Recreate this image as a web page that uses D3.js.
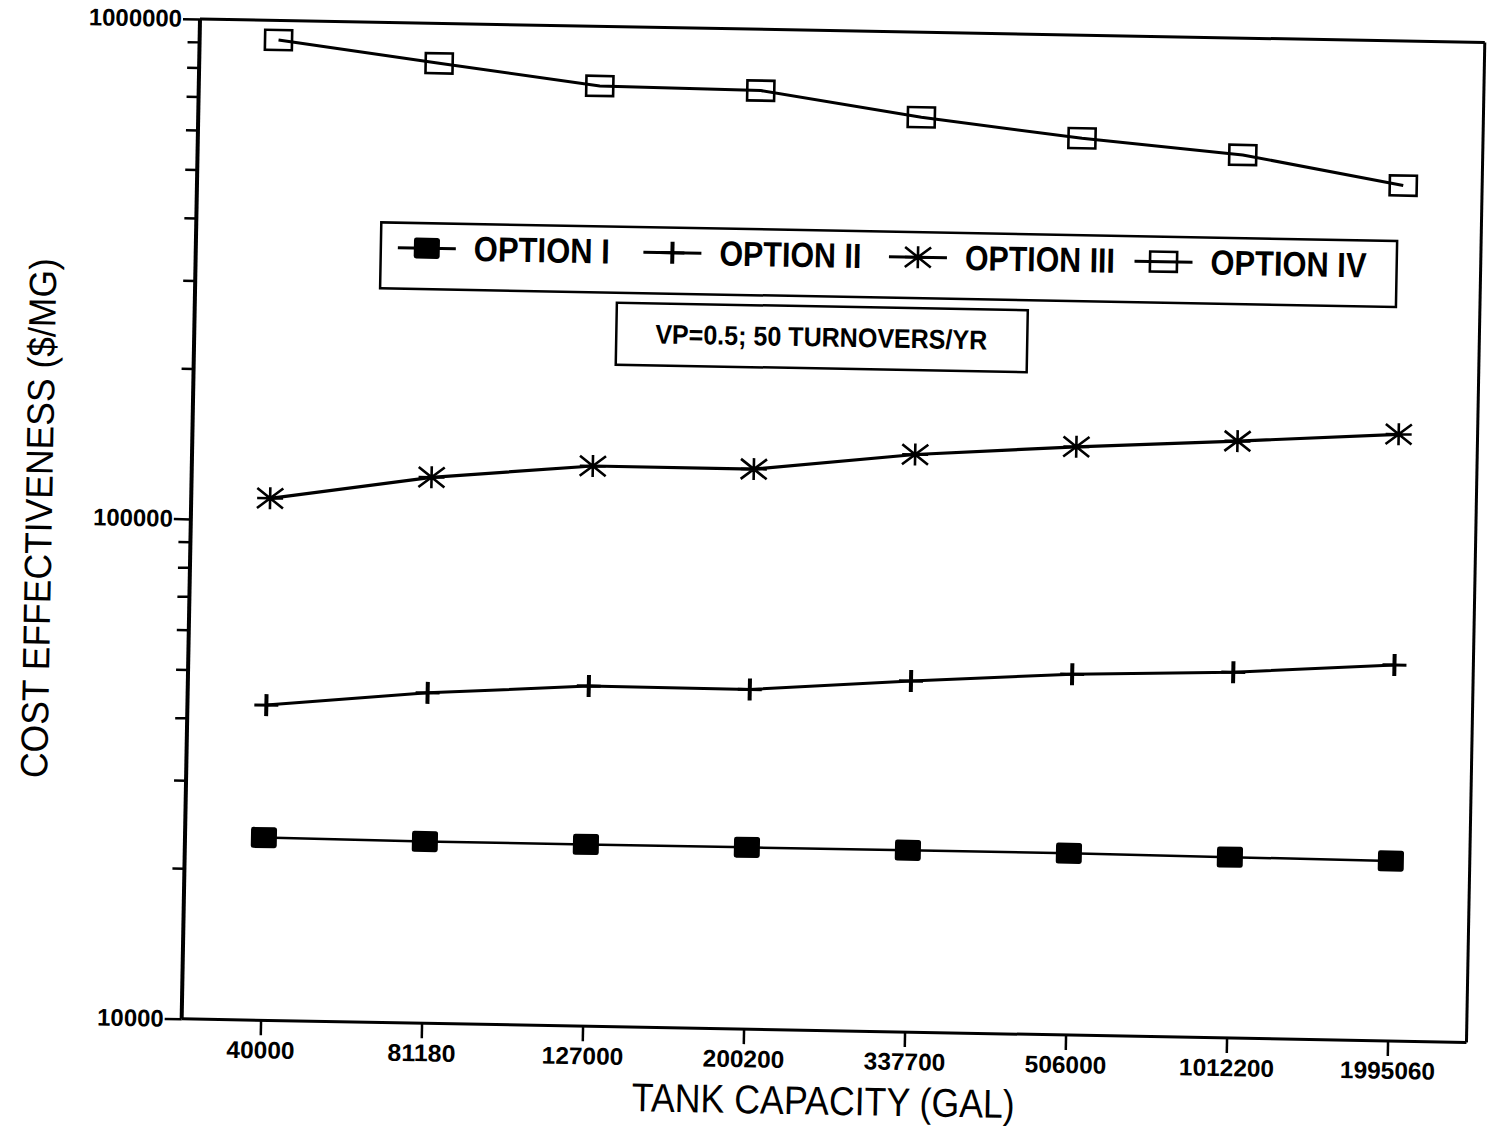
<!DOCTYPE html>
<html><head><meta charset="utf-8">
<script src="https://cdn.jsdelivr.net/npm/d3@7"></script>
<style>body{margin:0;background:#fff}svg{display:block}</style>
</head><body><svg id="c" width="1489" height="1126"></svg>
<script>
// ---- data ----
const categories = ["40000","81180","127000","200200","337700","506000","1012200","1995060"];
const optionI   = [23200, 23100, 23100, 23100, 23100, 23100, 23000, 22900];
const optionII  = [42700, 45800, 47900, 47800, 50400, 52700, 53900, 56500];
const optionIII = [110700, 123600, 132000, 131900, 143000, 150200, 156300, 163500];
const optionIV  = [914000, 832000, 760000, 754000, 676000, 622000, 584000, 514000];
const seriesNames = ["OPTION I", "OPTION II", "OPTION III", "OPTION IV"];
const yMajorTicks = [10000, 100000, 1000000];
const xTitle = "TANK CAPACITY (GAL)";
const yTitle = "COST EFFECTIVENESS ($/MG)";
const annotation = "VP=0.5; 50 TURNOVERS/YR";

const series = [
  {name: seriesNames[0], values: optionI,   marker: "fsquare", lw: 2.5},
  {name: seriesNames[1], values: optionII,  marker: "plus",    lw: 3},
  {name: seriesNames[2], values: optionIII, marker: "star",    lw: 3.2},
  {name: seriesNames[3], values: optionIV,  marker: "osquare", lw: 3}
];

// ---- layout (scanned page is tilted ~1 degree) ----
const W = 1285, H = 1000;
const FONT = "'Liberation Sans', Arial, Helvetica, sans-serif";
const svg = d3.select("#c");
const g = svg.append("g").attr("transform", "translate(200,19) rotate(1.05)");

const x = d3.scalePoint().domain(categories).range([0, W]).padding(0.49);
const y = d3.scaleLog().domain([10000, 1000000]).range([H, 0]);

// minor ticks
const minorTicks = [];
[10000, 100000].forEach(d => { for (let k = 2; k <= 9; k++) minorTicks.push(d * k); });

const yMinor = g.append("g").call(d3.axisLeft(y).tickValues(minorTicks).tickSize(12).tickFormat(""));
yMinor.select(".domain").remove();
const yMajor = g.append("g").call(d3.axisLeft(y).tickValues(yMajorTicks).tickSize(17).tickPadding(1).tickFormat(d3.format("d")));
yMajor.select(".domain").remove();
[yMinor, yMajor].forEach(a => a.selectAll("line").attr("stroke", "#000").attr("stroke-width", 2.5));
yMajor.selectAll("text").attr("font-family", FONT).attr("font-weight", "bold")
  .attr("font-size", 24).attr("fill", "#000").attr("textLength", function(d){ return String(d).length * 13.3; })
  .attr("lengthAdjust", "spacingAndGlyphs");

const xAxis = g.append("g").attr("transform", `translate(0,${H})`)
  .call(d3.axisBottom(x).tickSize(15).tickPadding(6));
xAxis.select(".domain").remove();
xAxis.selectAll("line").attr("stroke", "#000").attr("stroke-width", 2.5);
xAxis.selectAll("text").attr("font-family", FONT).attr("font-weight", "bold")
  .attr("font-size", 24).attr("fill", "#000")
  .attr("textLength", d => d.length * 13.6).attr("lengthAdjust", "spacingAndGlyphs");

// frame
g.append("line").attr("x1", 0).attr("x2", W).attr("y1", 0).attr("y2", 0).attr("stroke", "#000").attr("stroke-width", 3);
g.append("line").attr("x1", W).attr("x2", W).attr("y1", 0).attr("y2", H).attr("stroke", "#000").attr("stroke-width", 3);
g.append("line").attr("x1", 0).attr("x2", W).attr("y1", H).attr("y2", H).attr("stroke", "#000").attr("stroke-width", 3);
g.append("line").attr("x1", 0).attr("x2", 0).attr("y1", 0).attr("y2", H).attr("stroke", "#000").attr("stroke-width", 4);

// markers
function drawMarker(sel, type) {
  if (type === "fsquare") {
    sel.append("rect").attr("x", -13).attr("y", -10.5).attr("width", 26).attr("height", 21)
      .attr("rx", 2.5).attr("fill", "#000");
  } else if (type === "osquare") {
    sel.append("rect").attr("x", -13.5).attr("y", -10).attr("width", 27).attr("height", 20)
      .attr("fill", "none").attr("stroke", "#000").attr("stroke-width", 2.6);
  } else if (type === "plus") {
    sel.append("path").attr("d", "M-12,0H12").attr("stroke", "#000").attr("stroke-width", 3);
    sel.append("path").attr("d", "M0,-11V11").attr("stroke", "#000").attr("stroke-width", 4);
  } else if (type === "star") {
    sel.append("path").attr("d", "M-13,0H13M0,-11V11M-13,-10L13,10M-13,10L13,-10")
      .attr("stroke", "#000").attr("stroke-width", 2.6).attr("fill", "none");
  }
}

const line = d3.line().x((d, i) => x(categories[i])).y(d => y(d));
series.forEach(s => {
  g.append("path").datum(s.values).attr("d", line).attr("fill", "none")
    .attr("stroke", "#000").attr("stroke-width", s.lw);
  s.values.forEach((v, i) => {
    const m = g.append("g").attr("transform", `translate(${x(categories[i])},${y(v)})`);
    drawMarker(m, s.marker);
  });
});

// legend
const leg = g.append("g");
leg.append("rect").attr("x", 185).attr("y", 200).attr("width", 1016).attr("height", 66)
  .attr("fill", "#fff").attr("stroke", "#000").attr("stroke-width", 2.5);
const legTextW = [136, 142, 150, 156];
series.forEach((s, i) => {
  const cx = 231 + i * 245.6;
  leg.append("line").attr("x1", cx - 29).attr("x2", cx + 29).attr("y1", 225).attr("y2", 225)
    .attr("stroke", "#000").attr("stroke-width", 3);
  const m = leg.append("g").attr("transform", `translate(${cx},225)`);
  drawMarker(m, s.marker);
  leg.append("text").attr("x", cx + 47).attr("y", 237).text(s.name)
    .attr("font-family", FONT).attr("font-weight", "bold").attr("font-size", 35)
    .attr("textLength", legTextW[i]).attr("lengthAdjust", "spacingAndGlyphs");
});

// annotation box
g.append("rect").attr("x", 422).attr("y", 276).attr("width", 411).attr("height", 62)
  .attr("fill", "#fff").attr("stroke", "#000").attr("stroke-width", 2.5);
g.append("text").attr("x", 627).attr("y", 316).attr("text-anchor", "middle").text(annotation)
  .attr("font-family", FONT).attr("font-weight", "bold").attr("font-size", 27)
  .attr("textLength", 332).attr("lengthAdjust", "spacingAndGlyphs");

// titles
g.append("text").attr("x", 643).attr("y", 1084).attr("text-anchor", "middle").text(xTitle)
  .attr("font-family", FONT).attr("font-size", 40)
  .attr("textLength", 383).attr("lengthAdjust", "spacingAndGlyphs");
g.append("text").attr("transform", "translate(-139,502) rotate(-90)").attr("text-anchor", "middle").text(yTitle)
  .attr("font-family", FONT).attr("font-size", 38)
  .attr("textLength", 520).attr("lengthAdjust", "spacingAndGlyphs");
</script>
</body></html>
